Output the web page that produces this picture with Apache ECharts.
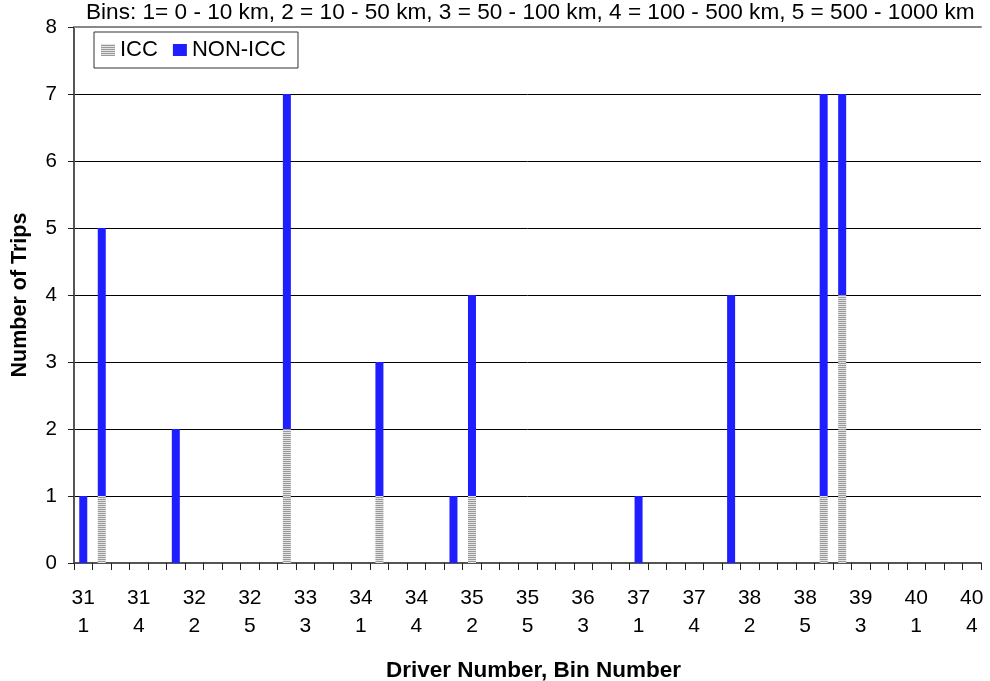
<!DOCTYPE html>
<html>
<head>
<meta charset="utf-8">
<script src="https://cdn.jsdelivr.net/npm/echarts@6/dist/echarts.min.js"></script>
<style>
  html, body { margin: 0; padding: 0; background: #fff; }
  #chart { width: 990px; height: 681px; }
</style>
</head>
<body>
<div id="chart"></div>
<script>
// Driver / distance-bin categories (driver number on line 1, bin on line 2)
const categories = [
  '31\n1','31\n2','31\n3','31\n4','31\n5',
  '32\n1','32\n2','32\n3','32\n4','32\n5',
  '33\n1','33\n2','33\n3','33\n4','33\n5',
  '34\n1','34\n2','34\n3','34\n4','34\n5',
  '35\n1','35\n2','35\n3','35\n4','35\n5',
  '36\n1','36\n2','36\n3','36\n4','36\n5',
  '37\n1','37\n2','37\n3','37\n4','37\n5',
  '38\n1','38\n2','38\n3','38\n4','38\n5',
  '39\n1','39\n2','39\n3','39\n4','39\n5',
  '40\n1','40\n2','40\n3','40\n4'
];

// Trips per category
const iccTrips = [
  0,1,0,0,0,  0,0,0,0,0,  0,2,0,0,0,  0,1,0,0,0,  0,1,0,0,0,
  0,0,0,0,0,  0,0,0,0,0,  0,0,0,0,0,  1,4,0,0,0,  0,0,0,0
];
const nonIccTrips = [
  1,4,0,0,0,  2,0,0,0,0,  0,5,0,0,0,  0,2,0,0,0,  1,3,0,0,0,
  0,0,0,0,0,  1,0,0,0,0,  4,0,0,0,0,  6,3,0,0,0,  0,0,0,0
];

const yTicks = [0, 1, 2, 3, 4, 5, 6, 7, 8];

const titleText = 'Bins: 1= 0 - 10 km, 2 = 10 - 50 km, 3 = 50 - 100 km, 4 = 100 - 500 km, 5 = 500 - 1000 km';

// Horizontal-stripe fill for the ICC bars
const stripe = document.createElement('canvas');
stripe.width = 4;
stripe.height = 2;
const sctx = stripe.getContext('2d');
sctx.fillStyle = '#e2e2e2';
sctx.fillRect(0, 0, 4, 1);
sctx.fillStyle = '#9a9a9a';
sctx.fillRect(0, 1, 4, 1);
const iccFill = { image: stripe, repeat: 'repeat' };

const FONT = 'Liberation Sans, Arial, sans-serif';

const chart = echarts.init(document.getElementById('chart'), null, { renderer: 'canvas' });

chart.setOption({
  animation: false,
  backgroundColor: '#ffffff',
  textStyle: { fontFamily: FONT, color: '#000' },
  title: {
    text: titleText,
    left: 86,
    top: 1,
    padding: 0,
    textStyle: { fontFamily: FONT, fontSize: 22.6, fontWeight: 'normal', color: '#000' }
  },
  legend: {
    data: ['ICC', 'NON-ICC'],
    left: 94,
    top: 32,
    orient: 'horizontal',
    backgroundColor: '#fff',
    borderColor: '#333',
    borderWidth: 1,
    padding: [7, 12, 7, 7],
    itemGap: 15,
    itemWidth: 14,
    itemHeight: 12,
    icon: 'rect',
    textStyle: { fontFamily: FONT, fontSize: 22, color: '#000', lineHeight: 22 }
  },
  grid: { left: 74, right: 9, top: 27, bottom: 118, containLabel: false, outerBoundsMode: 'none' },
  xAxis: [
    {
      type: 'category',
      data: categories,
      position: 'bottom',
      boundaryGap: true,
      name: 'Driver Number, Bin Number',
      nameLocation: 'middle',
      nameGap: 96,
      nameTextStyle: { fontFamily: FONT, fontSize: 22.5, fontWeight: 'bold', color: '#000', padding: [0, 0, 0, 12] },
      axisLine: { show: true, lineStyle: { color: '#555', width: 2 } },
      axisTick: { show: true, interval: 0, length: 7, lineStyle: { color: '#222', width: 1 } },
      axisLabel: { interval: 2, margin: 21, fontFamily: FONT, fontSize: 21, color: '#000', lineHeight: 28 },
      splitLine: { show: false }
    },
    {
      type: 'category',
      data: categories,
      position: 'top',
      axisLine: { show: true, lineStyle: { color: '#888', width: 2 } },
      axisTick: { show: false },
      axisLabel: { show: false },
      splitLine: { show: false }
    }
  ],
  yAxis: {
    type: 'value',
    min: yTicks[0],
    max: yTicks[yTicks.length - 1],
    interval: 1,
    name: 'Number of Trips',
    nameLocation: 'middle',
    nameGap: 43,
    nameTextStyle: { fontFamily: FONT, fontSize: 21.5, fontWeight: 'bold', color: '#000' },
    axisLine: { show: true, lineStyle: { color: '#555', width: 2 } },
    axisTick: { show: true, inside: false, length: 6, lineStyle: { color: '#222', width: 1 } },
    axisLabel: { margin: 17, fontFamily: FONT, fontSize: 20.5, color: '#000' },
    splitLine: { show: true, lineStyle: { color: '#000', width: 1 } }
  },
  series: [
    {
      name: 'ICC',
      type: 'bar',
      stack: 'trips',
      data: iccTrips,
      barWidth: 8,
      itemStyle: { color: iccFill }
    },
    {
      name: 'NON-ICC',
      type: 'bar',
      stack: 'trips',
      data: nonIccTrips,
      barWidth: 8,
      itemStyle: { color: '#1E1EFF' }
    }
  ]
});
</script>
</body>
</html>
